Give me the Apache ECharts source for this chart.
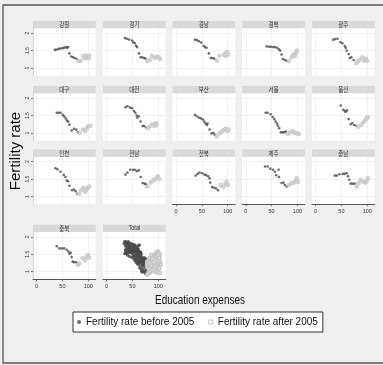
<!DOCTYPE html>
<html>
<head>
<meta charset="utf-8">
<script src="https://cdn.jsdelivr.net/npm/echarts@6/dist/echarts.min.js"></script>
<style>
  html, body { margin: 0; padding: 0; background: #efefef; }
  #chart { width: 383px; height: 365px; }
</style>
</head>
<body>
<div id="chart"></div>
<script>
// Fertility rate vs. education expenses, one small panel per region plus a pooled panel.
const regions = ['강원', '경기', '경남', '경북', '광주', '대구', '대전', '부산', '서울', '울산',
                 '인천', '전남', '전북', '제주', '충남', '충북', 'Total'];

// [education expenses, fertility rate]
const gangwonBefore = [[35.3,1.52],[39.1,1.53],[43,1.55],[46,1.56],[50,1.57],[53.2,1.58],[56.4,1.6],[59,1.58],[61,1.6],[63.5,1.42],[67.3,1.33],[70.5,1.31],[73.7,1.29],[77.6,1.26]];
const gangwonAfter  = [[81.4,1.2],[85.3,1.21],[89.7,1.34],[94.2,1.28],[96,1.36],[98,1.31],[100.6,1.28],[102,1.35]];
const gyeonggiBefore = [[35.3,1.86],[39.1,1.84],[43.6,1.82],[49.4,1.79],[51.9,1.74],[54.5,1.71],[57,1.64],[59,1.6],[62.8,1.42],[66,1.31],[69.2,1.31],[72.4,1.29],[75,1.27]];
const gyeonggiAfter  = [[78.8,1.2],[84,1.23],[87.8,1.35],[93,1.29],[96.8,1.33],[100.6,1.31],[103.2,1.26]];
const gyeongnamBefore = [[36.5,1.81],[40.4,1.8],[44.2,1.77],[48.7,1.73],[53.2,1.64],[55.8,1.6],[59,1.58],[63.5,1.42],[67.3,1.29],[70.5,1.29],[73.7,1.27]];
const gyeongnamAfter  = [[78.8,1.21],[84,1.35],[93,1.39],[95.5,1.35],[96.8,1.42],[99.4,1.46],[100.6,1.39]];
const gyeongbukBefore = [[40.4,1.62],[44.9,1.61],[48.7,1.61],[53.2,1.6],[56.4,1.6],[60.3,1.58],[64.1,1.54],[66.7,1.5],[69.2,1.39],[71.8,1.26],[75.6,1.23],[78.8,1.21]];
const gyeongbukAfter  = [[83.3,1.2],[88.5,1.31],[92.3,1.39],[94.9,1.35],[97.4,1.44],[98.7,1.5]];
const gwangjuBefore = [[34,1.81],[37.8,1.83],[42.3,1.84],[48.1,1.74],[52,1.71],[56.4,1.63],[58.3,1.58],[60.3,1.5],[64.1,1.4],[66,1.29],[69.2,1.31],[73.7,1.23]];
const gwangjuAfter  = [[78.8,1.14],[82.7,1.2],[86.5,1.25],[90.4,1.31],[94.2,1.21],[97.4,1.27],[100,1.21]];
const daeguBefore = [[39.1,1.58],[43,1.58],[46.2,1.58],[50.6,1.52],[53.2,1.48],[56.4,1.42],[59,1.36],[60.9,1.33],[63.5,1.24],[68,1.07],[72.4,1.12],[76.9,1.1],[80.1,1.02]];
const daeguAfter  = [[83.3,1.0],[89.7,1.1],[94.2,1.06],[98,1.14],[100.6,1.2],[104.5,1.21]];
const daejeonBefore = [[36.5,1.74],[40.4,1.77],[45.5,1.73],[49.4,1.71],[53.2,1.63],[55.8,1.58],[58.3,1.5],[59.6,1.44],[62.2,1.48],[66,1.33],[69.9,1.2],[72.4,1.2],[76.3,1.16]];
const daejeonAfter  = [[80.1,1.14],[85.3,1.21],[89.1,1.25],[93,1.2],[95.5,1.29],[96.8,1.23]];
const busanBefore = [[36.5,1.52],[40.4,1.48],[44.2,1.44],[48.1,1.42],[51.9,1.39],[54.5,1.33],[57,1.27],[59.6,1.23],[60.9,1.27],[64.7,1.1],[68.6,0.99],[72.4,1.0],[75,0.95]];
const busanAfter  = [[78.8,0.91],[84,0.99],[87.8,1.04],[91.7,1.08],[95.5,1.12],[99.4,1.06],[101.9,1.1]];
const seoulBefore = [[38.5,1.58],[42.3,1.58],[48.1,1.54],[51.9,1.46],[55.1,1.4],[57.7,1.33],[60.3,1.27],[62.2,1.21],[64.7,1.14],[67.9,1.02],[71.2,1.02],[74.4,1.02],[77.6,1.04]];
const seoulAfter  = [[81.4,0.97],[85.9,1.02],[91,1.06],[94.9,1.0],[98.7,0.99],[102.6,0.97]];
const ulsanBefore = [[48.7,1.79],[53.8,1.67],[56.4,1.63],[58.3,1.61],[60.9,1.65],[64.1,1.4],[67.9,1.25],[71.2,1.29],[74.4,1.23],[78.8,1.21]];
const ulsanAfter  = [[82.7,1.18],[87.8,1.23],[92.3,1.31],[96.2,1.37],[98.7,1.42],[101.3,1.46]];
const incheonBefore = [[36.5,1.81],[40.4,1.78],[46.2,1.71],[52.6,1.62],[55.8,1.56],[58.3,1.46],[60.9,1.44],[63.5,1.31],[68.6,1.18],[72.4,1.2],[75.6,1.15],[78.8,1.08]];
const incheonAfter  = [[82,1.08],[86.5,1.18],[90.4,1.25],[94.2,1.14],[96.8,1.2],[99.4,1.25],[101.9,1.29]];
const jeonnamBefore = [[36.5,1.63],[40.4,1.69],[45.5,1.77],[50.6,1.77],[54.5,1.77],[58.3,1.73],[62.2,1.75],[66,1.56],[69.9,1.39],[73.7,1.37],[76.3,1.35]];
const jeonnamAfter  = [[78.8,1.29],[85.3,1.4],[89.1,1.46],[93,1.48],[96.8,1.54],[99.4,1.58],[101.9,1.5]];
const jeonbukBefore = [[37.8,1.6],[41.7,1.65],[45.5,1.69],[50.6,1.67],[55.1,1.63],[58.3,1.61],[62.2,1.58],[64.7,1.52],[66,1.4],[69.9,1.27],[73.7,1.25],[77.6,1.23],[81.4,1.18]];
const jeonbukAfter  = [[86.5,1.33],[91.7,1.27],[95.5,1.37],[98,1.42],[100.6,1.33]];
const jejuBefore = [[37.2,1.86],[42.3,1.86],[47.4,1.8],[52.6,1.77],[56.4,1.71],[59,1.61],[63.5,1.77],[64.1,1.56],[69.2,1.39],[73.1,1.4],[75.6,1.33],[79.5,1.29]];
const jejuAfter  = [[83.3,1.33],[88.5,1.39],[93.6,1.4],[97.4,1.44],[98.7,1.52],[101.3,1.42]];
const chungnamBefore = [[37.2,1.6],[41,1.6],[46.2,1.64],[52.6,1.65],[56.4,1.65],[60.3,1.67],[62.8,1.58],[65.4,1.48],[67.9,1.37],[71.8,1.37],[75.6,1.37]];
const chungnamAfter  = [[79.5,1.29],[83.3,1.39],[87.2,1.48],[92.3,1.42],[96.2,1.4],[98.7,1.44],[101.3,1.52]];
const chungbukBefore = [[39.1,1.73],[44.2,1.67],[48.7,1.67],[53.2,1.67],[58.3,1.63],[61.5,1.58],[63.5,1.52],[66,1.54],[67.9,1.42],[69.9,1.29],[72.4,1.27],[76.3,1.27]];
const chungbukAfter  = [[80.1,1.2],[82.7,1.24],[89.1,1.39],[94.2,1.33],[96.8,1.42],[99.4,1.48],[101.9,1.4]];

const beforeSets = [gangwonBefore, gyeonggiBefore, gyeongnamBefore, gyeongbukBefore, gwangjuBefore,
  daeguBefore, daejeonBefore, busanBefore, seoulBefore, ulsanBefore,
  incheonBefore, jeonnamBefore, jeonbukBefore, jejuBefore, chungnamBefore, chungbukBefore];
const afterSets = [gangwonAfter, gyeonggiAfter, gyeongnamAfter, gyeongbukAfter, gwangjuAfter,
  daeguAfter, daejeonAfter, busanAfter, seoulAfter, ulsanAfter,
  incheonAfter, jeonnamAfter, jeonbukAfter, jejuAfter, chungnamAfter, chungbukAfter];
// pooled panel
beforeSets.push([].concat(...beforeSets));
afterSets.push([].concat(...afterSets));

const xTicks = [0, 50, 100];
const xTickLabels = ['0', '50', '100'];
const yTicks = [1, 1.5, 2];
const yTickLabels = ['1', '1.5', '2'];
const seriesNames = ['Fertility rate before 2005', 'Fertility rate after 2005'];
const xTitle = 'Education expenses';
const yTitle = 'Fertility rate';

// panel geometry
const colLeft = [33, 103, 172.5, 242.2, 312];
const rowTop = [21, 86, 149.5, 224.7];
const plotW = 62.7, stripH = 7.3, plotH = 47.4;
const xRange = [-7, 114.5], yRange = [0.78, 2.14];
const sans = '"Liberation Sans", Arial, sans-serif';
const kr = '"Noto Sans CJK KR", "Noto Sans", sans-serif';

const grids = [], xAxes = [], yAxes = [], series = [], graphics = [];

// outer frame
graphics.push({ type: 'rect', shape: { x: 3, y: 5, width: 390, height: 358 },
  style: { fill: 'none', stroke: '#555', lineWidth: 1.3 }, silent: true });

regions.forEach((name, i) => {
  const col = i % 5, row = Math.floor(i / 5);
  const left = colLeft[col], top = rowTop[row];
  const showX = i + 5 >= regions.length;
  const showY = col === 0;

  grids.push({ left: left, top: top + stripH, width: plotW, height: plotH,
    show: true, backgroundColor: '#ffffff', borderWidth: 0 });

  graphics.push({ type: 'rect', shape: { x: left, y: top, width: plotW, height: stripH },
    style: { fill: '#d9d9d9' }, silent: true });
  graphics.push({ type: 'text', x: left + plotW / 2, y: top + stripH / 2 + 0.3,
    scaleX: 0.85, originX: 0, originY: 0,
    style: { text: name, fontSize: 6.5, fontFamily: name === 'Total' ? sans : kr,
      fill: '#333', align: 'center', verticalAlign: 'middle' }, silent: true });

  xAxes.push({
    gridIndex: i, type: 'value', min: xRange[0], max: xRange[1],
    axisLine: { show: showX, onZero: false, lineStyle: { color: '#555', width: 1 } },
    axisTick: { show: showX, length: 2, customValues: xTicks, lineStyle: { color: '#555', width: 0.8 } },
    axisLabel: { show: showX, customValues: xTicks, fontSize: 5.5, margin: 4, color: '#333', fontFamily: sans,
      formatter: v => xTickLabels[xTicks.indexOf(v)] },
    splitLine: { show: true, customValues: xTicks, lineStyle: { color: '#ececec', width: 0.7 } }
  });
  yAxes.push({
    gridIndex: i, type: 'value', min: yRange[0], max: yRange[1],
    axisLine: { show: showY, onZero: false, lineStyle: { color: '#c8c8c8', width: 0.8 } },
    axisTick: { show: showY, length: 2, customValues: yTicks, lineStyle: { color: '#555', width: 0.8 } },
    axisLabel: { show: showY, customValues: yTicks, rotate: 90, fontSize: 5, margin: 3, color: '#333', fontFamily: sans,
      formatter: v => yTickLabels[yTicks.indexOf(v)] },
    splitLine: { show: true, customValues: yTicks, lineStyle: { color: '#ececec', width: 0.7 } }
  });

  const isTotal = name === 'Total';
  series.push({
    name: seriesNames[0], type: 'scatter', xAxisIndex: i, yAxisIndex: i,
    data: beforeSets[i], symbol: 'circle', symbolSize: isTotal ? 3.4 : 2.6,
    itemStyle: { color: '#4a4a4a' }, silent: true
  });
  series.push({
    name: seriesNames[1], type: 'scatter', xAxisIndex: i, yAxisIndex: i,
    data: afterSets[i], symbol: 'emptyCircle', symbolSize: isTotal ? 3 : 2.6,
    itemStyle: { color: '#c4c4c4', borderWidth: 0.6 }, silent: true
  });
});

graphics.push({ type: 'text', x: 200, y: 301, scaleX: 0.8, originX: 0, originY: 0,
  style: { text: xTitle, fontSize: 12.5, fontFamily: sans, fill: '#111', align: 'center', verticalAlign: 'middle' }, silent: true });
graphics.push({ type: 'text', x: 16, y: 151, rotation: Math.PI / 2,
  style: { text: yTitle, fontSize: 15, fontFamily: sans, fill: '#111', align: 'center', verticalAlign: 'middle' }, silent: true });

const chart = echarts.init(document.getElementById('chart'), null, { renderer: 'canvas' });
chart.setOption({
  animation: false,
  backgroundColor: '#efefef',
  grid: grids,
  xAxis: xAxes,
  yAxis: yAxes,
  series: series,
  graphic: graphics,
  legend: {
    left: 73, top: 312, orient: 'horizontal', width: 300,
    padding: [5, 5, 5, 4],
    backgroundColor: '#ffffff', borderColor: '#333', borderWidth: 1,
    itemWidth: 4, itemHeight: 4, itemGap: 14,
    textStyle: { fontSize: 10, fontFamily: sans, color: '#111' },
    data: [
      { name: seriesNames[0], icon: 'circle', itemStyle: { color: '#4a4a4a' } },
      { name: seriesNames[1], icon: 'rect', itemStyle: { color: '#ffffff', borderColor: '#aaa', borderWidth: 0.8 } }
    ]
  }
});
</script>
</body>
</html>
